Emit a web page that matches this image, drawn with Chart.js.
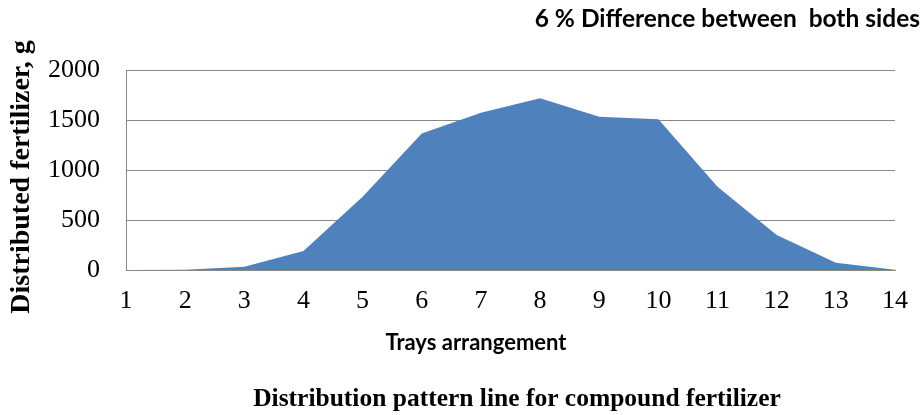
<!DOCTYPE html>
<html>
<head>
<meta charset="utf-8">
<script src="https://cdn.jsdelivr.net/npm/chart.js@4/dist/chart.umd.min.js"></script>
<style>
  html, body { margin: 0; padding: 0; background: #ffffff; }
  #wrap { width: 924px; height: 415px; position: relative; }
</style>
</head>
<body>
<div id="wrap"><canvas id="c" width="924" height="415"></canvas></div>
<script>
// ---- data ----
const trays = ['1','2','3','4','5','6','7','8','9','10','11','12','13','14'];
const fertilizer = [0, 3, 33, 190, 733, 1365, 1573, 1717, 1533, 1507, 833, 350, 73, 3];
const yTicks = [0, 500, 1000, 1500, 2000];

const titleText = 'Distribution pattern line for compound fertilizer';
const xTitleText = 'Trays arrangement';
const yTitleText = 'Distributed fertilizer, g';
const noteText = '6 % Difference between  both sides';

const textPlugin = {
  id: 'texts',
  afterDraw(chart) {
    const ctx = chart.ctx;
    ctx.save();
    ctx.fillStyle = '#000000';
    ctx.textBaseline = 'alphabetic';
    // top-right note
    ctx.font = 'bold 24.5px Lato, "Open Sans", sans-serif';
    ctx.textAlign = 'right';
    ctx.fillText(noteText, 920, 27);
    // x axis title
    ctx.textAlign = 'center';
    ctx.font = 'bold 22px Lato, "Open Sans", sans-serif';
    ctx.fillText(xTitleText, 476, 350);
    // bottom title
    ctx.font = 'bold 25.5px "Liberation Serif", "Times New Roman", serif';
    ctx.fillText(titleText, 517, 406);
    // y axis title
    ctx.translate(29, 177);
    ctx.rotate(-Math.PI / 2);
    ctx.font = 'bold 28px "Liberation Serif", "Times New Roman", serif';
    ctx.textAlign = 'center';
    ctx.fillText(yTitleText, 0, 0);
    ctx.restore();
  }
};

new Chart(document.getElementById('c'), {
  type: 'line',
  data: {
    labels: trays,
    datasets: [{
      data: fertilizer,
      fill: 'origin',
      backgroundColor: '#4F81BD',
      borderColor: '#4F81BD',
      borderWidth: 0,
      pointRadius: 0,
      tension: 0
    }]
  },
  options: {
    responsive: false,
    animation: false,
    layout: { padding: { left: 0, right: 21, top: 70, bottom: 0 } },
    plugins: {
      legend: { display: false },
      tooltip: { enabled: false }
    },
    scales: {
      x: {
        offset: false,
        grid: { display: false, drawTicks: false },
        border: { display: true, color: '#888888', width: 1 },
        ticks: {
          color: '#000000',
          padding: 16,
          maxRotation: 0,
          autoSkip: false,
          font: { family: '"Liberation Serif", "Times New Roman", serif', size: 26 }
        },
        afterFit(scale) { scale.height = 145; }
      },
      y: {
        min: 0,
        max: 2000,
        afterBuildTicks(scale) { scale.ticks = yTicks.map(v => ({ value: v })); },
        grid: { color: '#888888', lineWidth: 1, drawTicks: false },
        border: { display: true, color: '#888888', width: 1 },
        ticks: {
          color: '#000000',
          padding: 26,
          callback: (v) => String(v),
          font: { family: '"Liberation Serif", "Times New Roman", serif', size: 26 }
        },
        afterFit(scale) { scale.width = 126; }
      }
    }
  },
  plugins: [textPlugin]
});
</script>
</body>
</html>
